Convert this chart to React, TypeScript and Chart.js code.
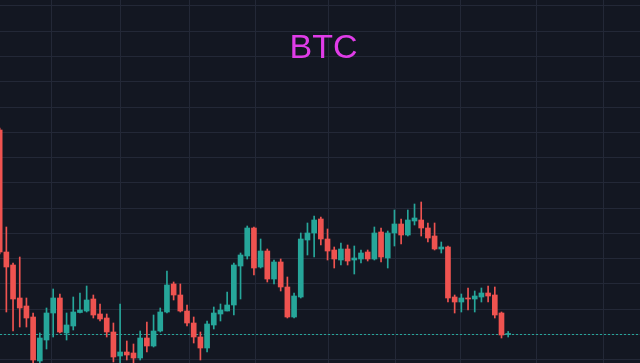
import React, { useEffect, useRef } from "react";
import { Chart, registerables } from "chart.js";

Chart.register(...registerables);

const title = "BTC";

// candle index (0 = oldest visible), prices
const opens = [
  8700, 7480, 7350, 7020, 6940, 6830, 6390, 6600, 6870, 7020,
  6670, 6740, 6875, 6890, 7010, 6860, 6820, 6680, 6440, 6480,
  6470, 6420, 6620, 6540, 6690, 6880, 7160, 7050, 6890, 6770,
  6630, 6520, 6750, 6860, 6890, 6950, 7340, 7440, 7720, 7330,
  7490, 7210, 7380, 7130, 6830, 7030, 7600, 7670, 7810, 7610,
  7500, 7400, 7510, 7400, 7410, 7480, 7410, 7680, 7420, 7670,
  7760, 7650, 7790, 7800, 7720, 7640, 7510, 7530, 7030, 6980,
  7020, 7010, 7030, 7070, 7050, 6870, 6655,
];
const highs = [
  8720, 7730, 7370, 7430, 7020, 6870, 6670, 6920, 7110, 7060,
  6870, 7030, 7070, 7140, 7050, 6960, 6860, 6770, 6960, 6590,
  6560, 6690, 6780, 6850, 6920, 7290, 7180, 7160, 6950, 6830,
  6680, 6790, 6930, 6960, 7080, 7370, 7470, 7740, 7730, 7610,
  7510, 7400, 7410, 7230, 7070, 7670, 7770, 7840, 7830, 7710,
  7530, 7570, 7550, 7540, 7500, 7500, 7730, 7720, 7690, 7900,
  7810, 7900, 7960, 7980, 7770, 7770, 7580, 7540, 7050, 7060,
  7120, 7090, 7120, 7140, 7130, 6880, 6685,
];
const lows = [
  7460, 6880, 6690, 6730, 6730, 6340, 6340, 6510, 6630, 6670,
  6600, 6700, 6870, 6880, 6820, 6790, 6630, 6380, 6340, 6400,
  6360, 6400, 6480, 6530, 6680, 6870, 7000, 6880, 6740, 6570,
  6400, 6480, 6710, 6790, 6890, 6850, 7010, 7410, 7250, 7320,
  7180, 7160, 7090, 6820, 6820, 7020, 7450, 7430, 7550, 7400,
  7320, 7350, 7350, 7260, 7370, 7390, 7400, 7380, 7320, 7540,
  7560, 7640, 7750, 7640, 7580, 7500, 7470, 6980, 6870, 6880,
  6900, 6880, 6980, 6980, 6820, 6620, 6630,
];
const closes = [
  7480, 7330, 7010, 6920, 6820, 6400, 6620, 6870, 7020, 6680,
  6750, 6880, 6900, 7000, 6850, 6810, 6680, 6430, 6480, 6450,
  6420, 6620, 6540, 6690, 6880, 7150, 7050, 6890, 6770, 6630,
  6520, 6760, 6870, 6900, 6950, 7350, 7450, 7720, 7320, 7490,
  7210, 7380, 7130, 6830, 7040, 7610, 7670, 7800, 7610, 7490,
  7410, 7510, 7390, 7420, 7470, 7410, 7670, 7430, 7670, 7760,
  7650, 7800, 7820, 7720, 7620, 7510, 7530, 7020, 6980, 7020,
  7010, 7040, 7070, 7040, 6850, 6650, 6665,
];

// vertical grid positions (candle index units) and horizontal grid levels (price)
const xGridTicks = [7.8, 18, 28.3, 38.2, 49.1, 59.2, 68.8, 80.2, 90.2];
const yGridTop = 9940;
const yGridStep = 252.5;

const X_MIN = 0.05;
const X_MAX = 95.7;
const Y_MIN = 6370;
const Y_MAX = 10000;

const UP = "#26a69a";
const DOWN = "#ef5350";
const BG = "#131722";
const GRID = "#232837";

export default function App() {
  const ref = useRef<HTMLCanvasElement | null>(null);

  useEffect(() => {
    document.body.style.margin = "0";
    document.body.style.background = BG;
    const canvas = ref.current;
    if (!canvas) return;

    const colors = closes.map((c, i) => (c >= opens[i] ? UP : DOWN));
    const bodies = opens.map((o, i) => ({ x: i, y: [o, closes[i]] }));
    const wicks = lows.map((l, i) => ({ x: i, y: [l, highs[i]] }));
    const lastClose = closes[closes.length - 1];

    const overlay = {
      id: "overlay",
      beforeDatasetsDraw(chart: any) {
        const { ctx, chartArea, scales } = chart;
        const y = Math.round(scales.y.getPixelForValue(lastClose)) + 0.5;
        ctx.save();
        ctx.strokeStyle = UP;
        ctx.lineWidth = 1;
        ctx.setLineDash([2, 2]);
        ctx.beginPath();
        ctx.moveTo(chartArea.left, y);
        ctx.lineTo(chartArea.right, y);
        ctx.stroke();
        ctx.restore();
      },
      afterDraw(chart: any) {
        const { ctx } = chart;
        ctx.save();
        ctx.fillStyle = "#e03ce8";
        ctx.font = '34px "Liberation Sans", Arial, sans-serif';
        ctx.textAlign = "center";
        ctx.textBaseline = "alphabetic";
        ctx.fillText(title, chart.width / 2 + 3.5, 58);
        ctx.restore();
      },
    };

    const chart = new Chart(canvas, {
      type: "bar",
      data: {
        datasets: [
          {
            label: "wick",
            data: wicks as any,
            backgroundColor: colors,
            barThickness: 1,
            grouped: false,
            borderWidth: 0,
            order: 2,
          } as any,
          {
            label: "body",
            data: bodies as any,
            backgroundColor: colors,
            barThickness: 5,
            grouped: false,
            borderWidth: 0,
            minBarLength: 1,
            order: 1,
          } as any,
        ],
      },
      options: {
        animation: false,
        responsive: false,
        maintainAspectRatio: false,
        layout: { padding: 0 },
        plugins: {
          legend: { display: false },
          tooltip: { enabled: false },
          title: { display: false },
        },
        scales: {
          x: {
            type: "linear",
            min: X_MIN,
            max: X_MAX,
            offset: false,
            grid: { color: GRID, drawTicks: false, offset: false },
            border: { display: false },
            ticks: { display: false },
            afterBuildTicks: (scale: any) => {
              scale.ticks = xGridTicks.map((v) => ({ value: v }));
            },
          },
          y: {
            type: "linear",
            min: Y_MIN,
            max: Y_MAX,
            grid: { color: GRID, drawTicks: false },
            border: { display: false },
            ticks: { display: false },
            afterBuildTicks: (scale: any) => {
              const t: { value: number }[] = [];
              for (let v = yGridTop; v > Y_MIN; v -= yGridStep) t.push({ value: v });
              scale.ticks = t;
            },
          },
        },
      } as any,
      plugins: [overlay],
    });

    return () => chart.destroy();
  }, []);

  return (
    <div style={{ width: 640, height: 363, background: BG }}>
      <canvas ref={ref} width={640} height={363} style={{ display: "block", background: BG }} />
    </div>
  );
}
